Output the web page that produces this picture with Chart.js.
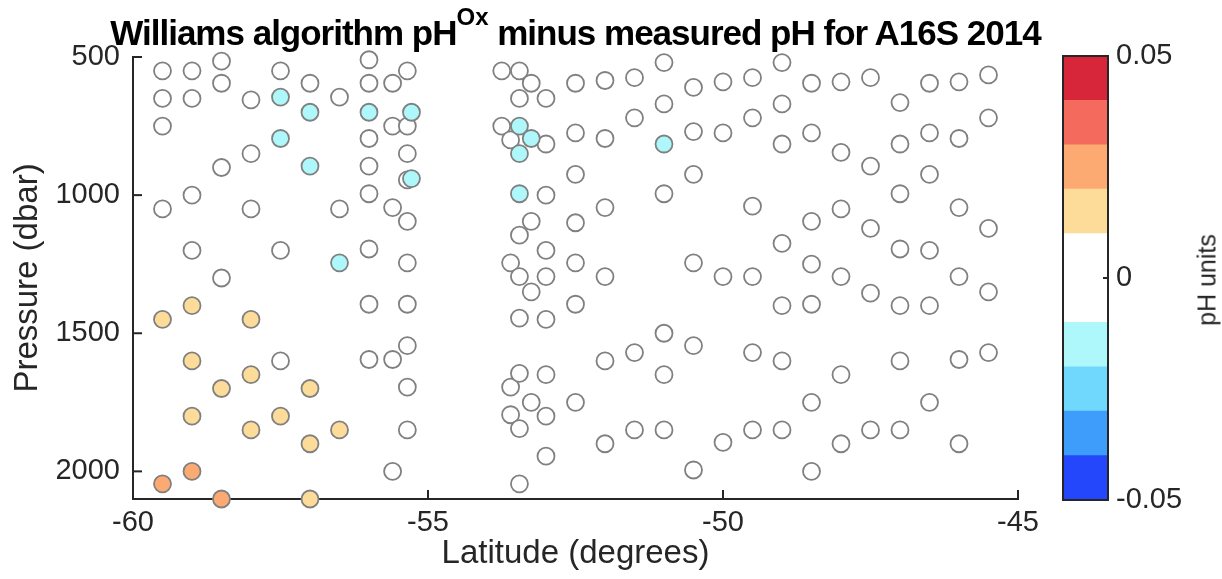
<!DOCTYPE html>
<html lang="en">
<head>
<meta charset="UTF-8">
<title>Williams algorithm pH minus measured pH for A16S 2014</title>
<script src="https://cdn.jsdelivr.net/npm/chart.js"></script>
<style>
  body { margin: 0; background: #fff; }
  #wrap { position: relative; width: 1222px; height: 579px; }
  canvas { position: absolute; top: 0; }
  #title {
    position: absolute; left: 0; width: 1151px; top: 13px; text-align: center; line-height: 35px;
    font: bold 35px "Liberation Sans", Arial, sans-serif; color: #000; letter-spacing: -1px;
    white-space: nowrap;
  }
  #title sup { font-size: 24px; vertical-align: baseline; position: relative; top: -20px; letter-spacing: 0; }
  #cbTitle {
    position: absolute; left: 1207px; top: 280px; transform: translate(-50%, -50%) rotate(-90deg);
    font: 25px "Liberation Sans", Arial, sans-serif; color: #262626; white-space: nowrap;
  }
</style>
</head>
<body>
<div id="wrap">
  <canvas id="mainChart" width="1222" height="579" style="left:0"></canvas>
  <canvas id="barChart" width="182" height="579" style="left:1040px"></canvas>
  <div id="title">Williams algorithm pH<sup>Ox</sup> minus measured pH for A16S 2014</div>
  <div id="cbTitle">pH units</div>
</div>
<script>
// one station column per line: latitude, pressure (dbar), algorithm minus measured pH
const latitude = [
  -59.5, -59.5, -59.5, -59.5, -59.5, -59.5,
  -59, -59, -59, -59, -59, -59, -59, -59,
  -58.5, -58.5, -58.5, -58.5, -58.5, -58.5,
  -58, -58, -58, -58, -58, -58,
  -57.5, -57.5, -57.5, -57.5, -57.5, -57.5,
  -57, -57, -57, -57, -57, -57,
  -56.5, -56.5, -56.5, -56.5,
  -56, -56, -56, -56, -56, -56, -56, -56, -56,
  -55.6, -55.6, -55.6, -55.6, -55.6,
  -55.35, -55.35, -55.35, -55.35, -55.35, -55.35, -55.35, -55.35, -55.35, -55.35,
  -55.28, -55.28,
  -53.75, -53.75,
  -53.6, -53.6, -53.6, -53.6,
  -53.45, -53.45, -53.45, -53.45, -53.45, -53.45, -53.45, -53.45, -53.45, -53.45, -53.45,
  -53.25, -53.25, -53.25, -53.25, -53.25,
  -53, -53, -53, -53, -53, -53, -53, -53, -53,
  -52.5, -52.5, -52.5, -52.5, -52.5, -52.5, -52.5,
  -52, -52, -52, -52, -52, -52,
  -51.5, -51.5, -51.5, -51.5,
  -51, -51, -51, -51, -51, -51, -51,
  -50.5, -50.5, -50.5, -50.5, -50.5, -50.5,
  -50, -50, -50, -50,
  -49.5, -49.5, -49.5, -49.5, -49.5, -49.5,
  -49, -49, -49, -49, -49, -49, -49,
  -48.5, -48.5, -48.5, -48.5, -48.5, -48.5, -48.5,
  -48, -48, -48, -48, -48, -48,
  -47.5, -47.5, -47.5, -47.5, -47.5,
  -47, -47, -47, -47, -47, -47, -47,
  -46.5, -46.5, -46.5, -46.5, -46.5, -46.5,
  -46, -46, -46, -46, -46, -46,
  -45.5, -45.5, -45.5, -45.5, -45.5
];
const pressure = [
  550, 650, 750, 1050, 1450, 2045,
  550, 650, 1000, 1200, 1400, 1600, 1800, 2000,
  515, 595, 900, 1300, 1700, 2100,
  655, 850, 1050, 1450, 1650, 1850,
  550, 645, 795, 1200, 1600, 1800,
  595, 700, 895, 1700, 1900, 2100,
  645, 1050, 1245, 1850,
  510, 595, 700, 795, 895, 995, 1195, 1395, 1595,
  595, 750, 1045, 1595, 2000,
  550, 750, 850, 945, 1095, 1245, 1395, 1545, 1695, 1850,
  700, 940,
  550, 750,
  800, 1245, 1695, 1795,
  550, 650, 750, 850, 995, 1145, 1295, 1445, 1645, 1845, 2045,
  595, 795, 1095, 1350, 1750,
  650, 815, 1000, 1200, 1295, 1450, 1650, 1800, 1945,
  595, 775, 925, 1100, 1245, 1395, 1750,
  585, 795, 1045, 1295, 1600, 1900,
  575, 720, 1570, 1850,
  520, 670, 815, 995, 1500, 1650, 1850,
  610, 770, 925, 1245, 1545, 1995,
  590, 775, 1295, 1895,
  575, 720, 1040, 1295, 1570, 1850,
  520, 670, 815, 1175, 1400, 1600, 1850,
  595, 775, 1095, 1250, 1395, 1750, 2000,
  590, 845, 1050, 1295, 1650, 1900,
  575, 895, 1120, 1355, 1850,
  665, 815, 995, 1195, 1400, 1600, 1850,
  595, 775, 925, 1200, 1400, 1750,
  590, 795, 1045, 1295, 1595, 1900,
  565, 720, 1120, 1350, 1570
];
const phDiff = [
  0, 0, 0, 0, 0.015, 0.025,
  0, 0, 0, 0, 0.015, 0.015, 0.015, 0.025,
  0, 0, 0, 0, 0.015, 0.025,
  0, 0, 0, 0.015, 0.015, 0.015,
  0, -0.015, -0.015, 0, 0, 0.015,
  0, -0.015, -0.015, 0.015, 0.015, 0.015,
  0, 0, -0.015, 0.015,
  0, 0, -0.015, 0, 0, 0, 0, 0, 0,
  0, 0, 0, 0, 0,
  0, 0, 0, 0, 0, 0, 0, 0, 0, 0,
  -0.015, -0.015,
  0, 0,
  0, 0, 0, 0,
  0, 0, -0.015, -0.015, -0.015, 0, 0, 0, 0, 0, 0,
  0, -0.015, 0, 0, 0,
  0, 0, 0, 0, 0, 0, 0, 0, 0,
  0, 0, 0, 0, 0, 0, 0,
  0, 0, 0, 0, 0, 0,
  0, 0, 0, 0,
  0, 0, -0.015, 0, 0, 0, 0,
  0, 0, 0, 0, 0, 0,
  0, 0, 0, 0,
  0, 0, 0, 0, 0, 0,
  0, 0, 0, 0, 0, 0, 0,
  0, 0, 0, 0, 0, 0, 0,
  0, 0, 0, 0, 0, 0,
  0, 0, 0, 0, 0,
  0, 0, 0, 0, 0, 0, 0,
  0, 0, 0, 0, 0, 0,
  0, 0, 0, 0, 0, 0,
  0, 0, 0, 0, 0
];

const xTicks = [-60, -55, -50, -45];
const yTicks = [500, 1000, 1500, 2000];
const cbTicks = [-0.05, 0, 0.05];
const cbTickLabels = ['-0.05', '0', '0.05'];
// colour bins from -0.05 up to 0.05, step 0.01
const cbEdges = [-0.05, -0.04, -0.03, -0.02, -0.01, 0, 0.01, 0.02, 0.03, 0.04, 0.05];
const cbColors = ['#2447fb', '#3e9cfb', '#70d8fd', '#aef8fc', '#ffffff',
                  '#ffffff', '#fddc9a', '#fdaa72', '#f46b5d', '#d7263a'];

const axisColor = '#262626';
const fontFamily = '"Liberation Sans", Arial, sans-serif';

function binColor(v) {
  let i = Math.floor((v - cbEdges[0]) / 0.01 + 1e-9);
  i = Math.max(0, Math.min(cbColors.length - 1, i));
  return cbColors[i];
}

// plot the white markers first so the coloured ones sit on top
const order = latitude.map((_, i) => i).sort((a, b) => (phDiff[a] !== 0) - (phDiff[b] !== 0));
const points = order.map(i => ({ x: latitude[i], y: pressure[i] }));
const fills = order.map(i => binColor(phDiff[i]));

const inwardTicks = {
  id: 'inwardTicks',
  afterDraw(chart) {
    const { ctx, chartArea: a, scales: { x, y } } = chart;
    ctx.save();
    ctx.strokeStyle = axisColor;
    ctx.lineWidth = 2;
    x.ticks.forEach(t => {
      const px = x.getPixelForValue(t.value);
      ctx.beginPath(); ctx.moveTo(px, a.bottom); ctx.lineTo(px, a.bottom - 9); ctx.stroke();
    });
    y.ticks.forEach(t => {
      const py = y.getPixelForValue(t.value);
      ctx.beginPath(); ctx.moveTo(a.left, py); ctx.lineTo(a.left + 9, py); ctx.stroke();
    });
    ctx.restore();
  }
};

new Chart(document.getElementById('mainChart'), {
  type: 'scatter',
  data: {
    datasets: [{
      data: points,
      pointRadius: 8.5,
      pointBorderWidth: 1.8,
      pointBorderColor: '#808080',
      pointBackgroundColor: fills,
      clip: false
    }]
  },
  options: {
    responsive: false,
    animation: false,
    layout: { padding: { top: 57, right: 204, left: 0, bottom: 0 } },
    plugins: { legend: { display: false }, tooltip: { enabled: false } },
    scales: {
      x: {
        type: 'linear', min: -60, max: -45,
        afterBuildTicks: s => { s.ticks = xTicks.map(v => ({ value: v })); },
        afterFit: s => { s.height = 80; },
        ticks: { color: axisColor, font: { family: fontFamily, size: 29 }, padding: 7, maxRotation: 0,
                 callback: v => String(v) },
        grid: { display: false, drawTicks: false },
        border: { color: axisColor, width: 2 },
        title: { display: true, text: 'Latitude (degrees)', color: axisColor,
                 font: { family: fontFamily, size: 33 }, padding: { top: 0, bottom: 5 } }
      },
      y: {
        type: 'linear', min: 500, max: 2100, reverse: true,
        afterBuildTicks: s => { s.ticks = yTicks.map(v => ({ value: v })); },
        afterFit: s => { s.width = 133; },
        ticks: { color: axisColor, font: { family: fontFamily, size: 29 }, padding: 13,
                 callback: v => String(v) },
        grid: { display: false, drawTicks: false },
        border: { color: axisColor, width: 2 },
        title: { display: true, text: 'Pressure (dbar)', color: axisColor,
                 font: { family: fontFamily, size: 33 }, padding: { top: 8, bottom: 0 } }
      }
    }
  },
  plugins: [inwardTicks]
});

// colour bar: one floating bar per bin
const cbFrame = {
  id: 'cbFrame',
  afterDraw(chart) {
    const { ctx, chartArea: a, scales: { y } } = chart;
    ctx.save();
    ctx.strokeStyle = axisColor;
    ctx.lineWidth = 2;
    ctx.strokeRect(a.left, a.top, a.right - a.left, a.bottom - a.top);
    const py = y.getPixelForValue(0);
    ctx.beginPath(); ctx.moveTo(a.right, py); ctx.lineTo(a.right - 5, py); ctx.stroke();
    ctx.restore();
  }
};

new Chart(document.getElementById('barChart'), {
  type: 'bar',
  data: {
    labels: [''],
    datasets: cbColors.map((c, i) => ({
      data: [[cbEdges[i], cbEdges[i + 1]]],
      backgroundColor: c,
      borderWidth: 0,
      barPercentage: 1,
      categoryPercentage: 1,
      grouped: false
    }))
  },
  options: {
    responsive: false,
    animation: false,
    layout: { padding: { top: 56, left: 23, right: 0, bottom: 79 } },
    plugins: { legend: { display: false }, tooltip: { enabled: false } },
    scales: {
      x: { display: false },
      y: {
        position: 'right', min: -0.05, max: 0.05,
        afterBuildTicks: s => { s.ticks = cbTicks.map(v => ({ value: v })); },
        afterFit: s => { s.width = 114; },
        ticks: { color: axisColor, font: { family: fontFamily, size: 29 }, padding: 8,
                 callback: (v, i) => cbTickLabels[i] },
        grid: { display: false, drawTicks: false },
        border: { display: false }
      }
    }
  },
  plugins: [cbFrame]
});
</script>
</body>
</html>
